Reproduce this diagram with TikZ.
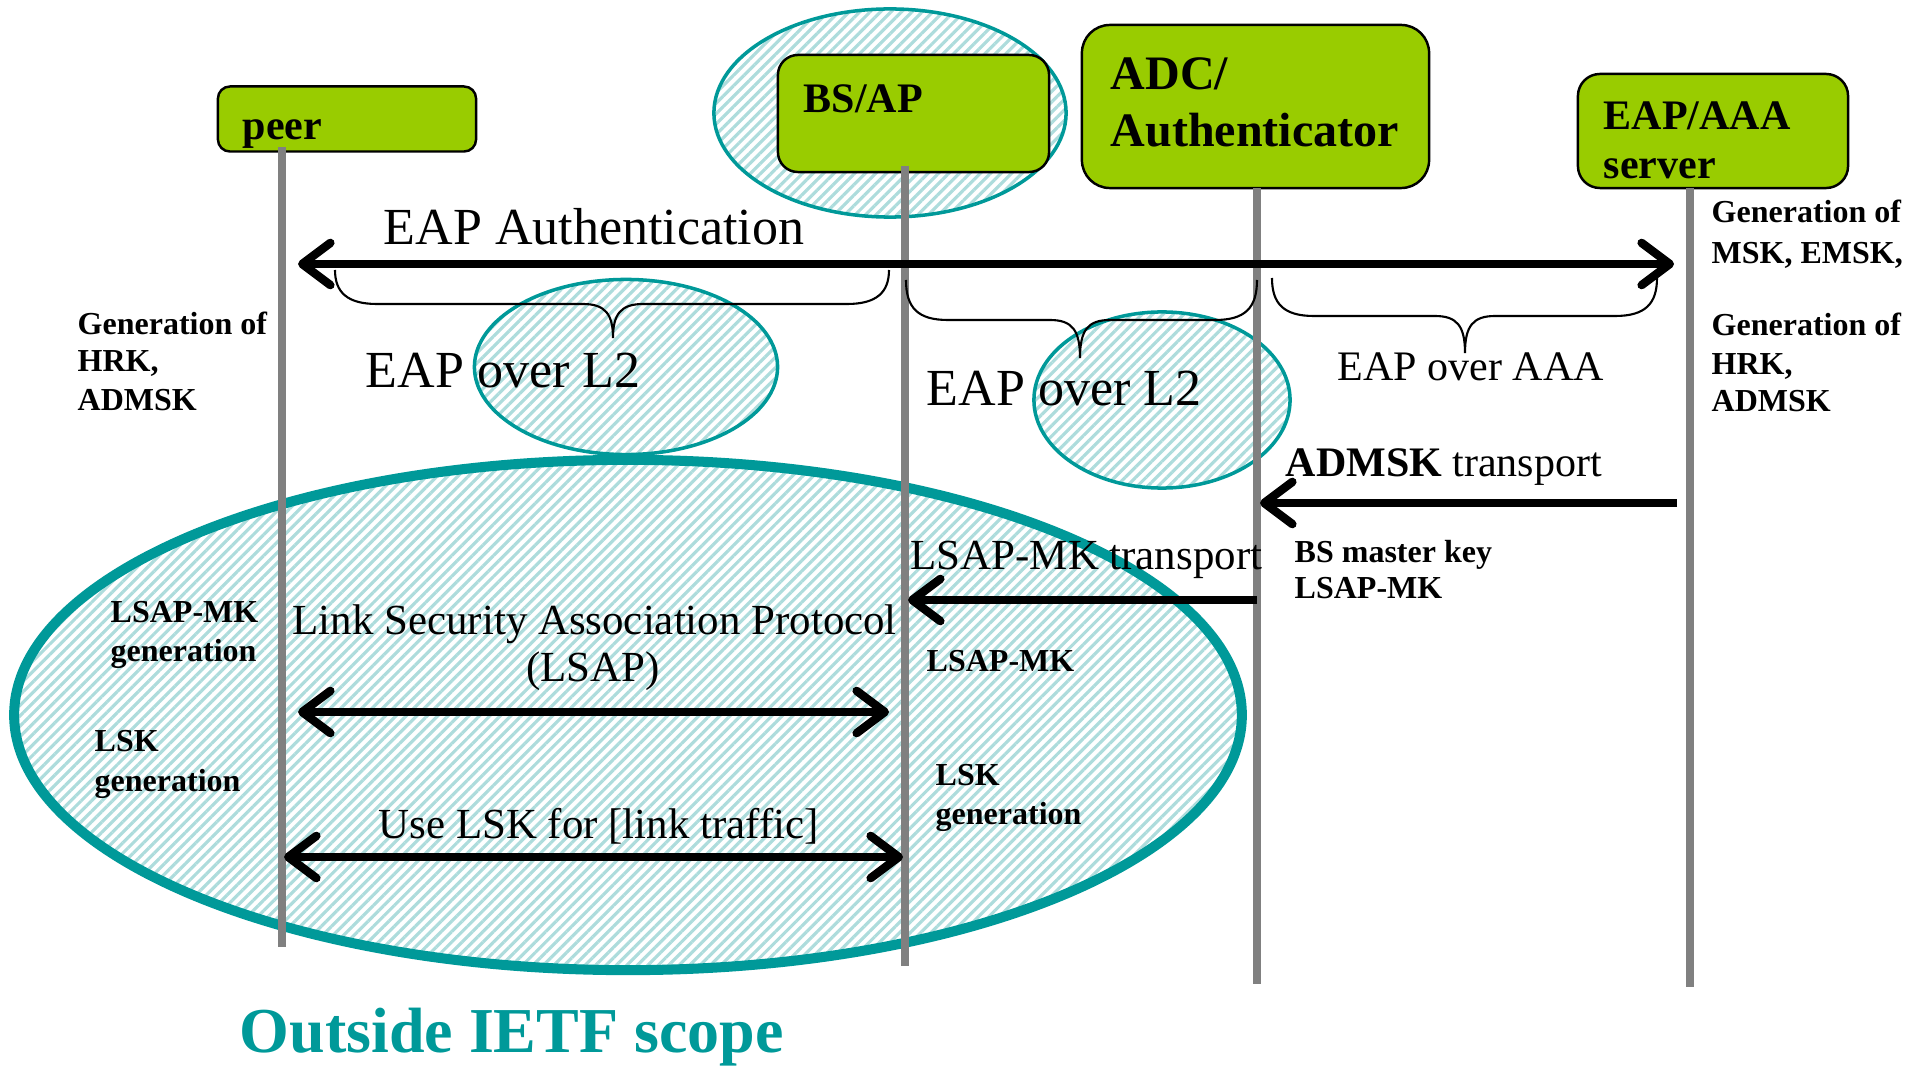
\documentclass[tikz,border=0pt]{standalone}
\usepackage{fontspec}
\setmainfont{Liberation Serif}
\usetikzlibrary{arrows.meta,patterns.meta,shapes.geometric}
\definecolor{boxgreen}{HTML}{99CC00}
\definecolor{scopeteal}{HTML}{009999}
\definecolor{hatchteal}{HTML}{ADDCDC}
\definecolor{lifegray}{HTML}{808080}

\tikzset{
  barb/.tip={Straight Barb[length=8pt,width=12pt,round]},
  entity/.style={draw=black, line width=0.7pt, fill=boxgreen, inner sep=0pt},
  lifeline/.style={draw=lifegray, line width=2pt},
  msg/.style={draw=black, line width=2.4pt, -barb},
  twoway/.style={draw=black, line width=2.4pt, barb-barb},
  hatched/.style={ellipse, draw=scopeteal, inner sep=0pt,
    pattern={Lines[angle=45,distance=2.1pt,line width=0.9pt]}, pattern color=hatchteal},
  curly/.style={draw=black, line width=0.6pt},
  txt/.style={inner sep=0pt, anchor=base west},
  fbig/.style={font=\fontsize{14.8pt}{17pt}\selectfont},
  fmid/.style={font=\fontsize{12.2pt}{14pt}\selectfont},
  fsml/.style={font=\fontsize{11.95pt}{14pt}\selectfont},
  fnote/.style={font=\fontsize{9.1pt}{11pt}\selectfont\bfseries},
  fbox/.style={font=\fontsize{11.95pt}{14pt}\selectfont\bfseries},
  fboxl/.style={font=\fontsize{13.66pt}{16pt}\selectfont\bfseries},
}

% curly brace: left x, right x, top y, flat y, tip x, tip y
\newcommand\curlybrace[6]{%
  \draw[curly] (#1,#3) .. controls (#1,#4-12) and (#1+12,#4) .. (#1+42,#4)
    -- (#5-30,#4) .. controls (#5-8,#4) and (#5,#4+10) .. (#5,#6)
    .. controls (#5,#4+10) and (#5+8,#4) .. (#5+30,#4)
    -- (#2-42,#4) .. controls (#2-12,#4) and (#2,#4-12) .. (#2,#3);}

\begin{document}
\begin{tikzpicture}[x=0.01cm, y=-0.01cm]
\useasboundingbox (0,0) rectangle (1923,1070);

% scope regions
\node[hatched, line width=2.85pt, minimum width=12.27cm, minimum height=5.10cm] (linkscope) at (628,715) {};
\node[hatched, line width=1pt, minimum width=3.52cm, minimum height=2.08cm] (bsscope) at (890,113) {};
\node[hatched, line width=1pt, minimum width=3.03cm, minimum height=1.75cm] (ltwoA) at (626,367) {};
\node[hatched, line width=1pt, minimum width=2.56cm, minimum height=1.76cm] (ltwoB) at (1162,400) {};

% entities
\node[entity, rounded corners=0.12cm, minimum width=2.58cm, minimum height=0.65cm] (peer) at (347,119) {};
\node[entity, rounded corners=0.2cm, minimum width=2.71cm, minimum height=1.17cm] (bsap) at (913.5,113.5) {};
\node[entity, rounded corners=0.28cm, minimum width=3.47cm, minimum height=1.63cm] (adc) at (1255.5,106.5) {};
\node[entity, rounded corners=0.22cm, minimum width=2.70cm, minimum height=1.14cm] (aaa) at (1713,131) {};

\node[txt, fbox] (peerlbl) at (242,140) {peer};
\node[txt, fbox] (bslbl) at (803,113) {BS/AP};
\node[txt, fboxl] (adclblA) at (1110,90) {ADC/};
\node[txt, fboxl] (adclblB) at (1110,147) {Authenticator};
\node[txt, fbox] (aaalblA) at (1603,130) {EAP/AAA};
\node[txt, fbox] (aaalblB) at (1603,179) {server};

% lifelines
\coordinate (peerTop) at (282,147);
\coordinate (peerBot) at (282,947);
\coordinate (bsTop) at (905,166);
\coordinate (bsBot) at (905,966);
\coordinate (adcTop) at (1257,188);
\coordinate (adcBot) at (1257,984);
\coordinate (aaaTop) at (1690,188);
\coordinate (aaaBot) at (1690,987);
\draw[lifeline] (peerTop) -- (peerBot);
\draw[lifeline] (bsTop) -- (bsBot);
\draw[lifeline] (adcTop) -- (adcBot);
\draw[lifeline] (aaaTop) -- (aaaBot);

% message end points
\coordinate (eapL) at (298,264);
\coordinate (eapR) at (1674,264);
\coordinate (admskFrom) at (1677,503);
\coordinate (admskTo) at (1260,503);
\coordinate (mkFrom) at (1257,600);
\coordinate (mkTo) at (908,600);
\coordinate (lsapL) at (298,712);
\coordinate (lsapR) at (889,712);
\coordinate (lskL) at (284,857);
\coordinate (lskR) at (903,857);

\draw[twoway] (eapL) -- (eapR);
\draw[msg] (admskFrom) -- (admskTo);
\draw[msg] (mkFrom) -- (mkTo);
\draw[twoway] (lsapL) -- (lsapR);
\draw[twoway] (lskL) -- (lskR);

% braces under the EAP exchange
\curlybrace{335}{889}{270}{304}{613}{338}
\curlybrace{906}{1257}{280}{320}{1080}{358}
\curlybrace{1272}{1657}{278}{316}{1465}{353}

% message labels
\node[txt, fbig] (eaplbl) at (383,245) {EAP Authentication};
\node[txt, fbig] (ltwolblA) at (365,388) {EAP over L2};
\node[txt, fbig] (ltwolblB) at (926,406) {EAP over L2};
\node[txt, fsml] (aaalbl) at (1337,380) {EAP over AAA};
\node[txt, fsml] (admsklbl) at (1285,476) {\textbf{ADMSK} transport};
\node[txt, fmid] (mklbl) at (910,570) {LSAP-MK transport};
\node[txt, fmid] (lsaplblA) at (292,634) {Link Security Association Protocol};
\node[inner sep=0pt, anchor=base, fmid] (lsaplblB) at (593,682) {(LSAP)};
\node[txt, fmid] (lsklbl) at (378,838) {Use LSK for [link traffic]};

% key notes
\node[txt, fnote] (bsmkA) at (1294,562) {BS master key};
\node[txt, fnote] (bsmkB) at (1294,598) {LSAP-MK};

\node[txt, fnote] (pgenA) at (77,334) {Generation of};
\node[txt, fnote] (pgenB) at (77,372) {HRK,};
\node[txt, fnote] (pgenC) at (77,410) {ADMSK};

\node[txt, fnote] (sgenA) at (1711,223) {Generation of};
\node[txt, fnote] (sgenB) at (1711,264) {MSK, EMSK,};
\node[txt, fnote] (sgenC) at (1711,336) {Generation of};
\node[txt, fnote] (sgenD) at (1711,374) {HRK,};
\node[txt, fnote] (sgenE) at (1711,412) {ADMSK};

\node[txt, fnote] (pmkA) at (110,623) {LSAP-MK};
\node[txt, fnote] (pmkB) at (110,662) {generation};
\node[txt, fnote] (plskA) at (94,751) {LSK};
\node[txt, fnote] (plskB) at (94,791) {generation};

\node[txt, fnote] (bmk) at (926,672) {LSAP-MK};
\node[txt, fnote] (blskA) at (935,785) {LSK};
\node[txt, fnote] (blskB) at (935,824) {generation};

\node[txt, font=\fontsize{18.2pt}{21pt}\selectfont\bfseries, text=scopeteal] (outside) at (239,1052) {Outside IETF scope};
\end{tikzpicture}
\end{document}
